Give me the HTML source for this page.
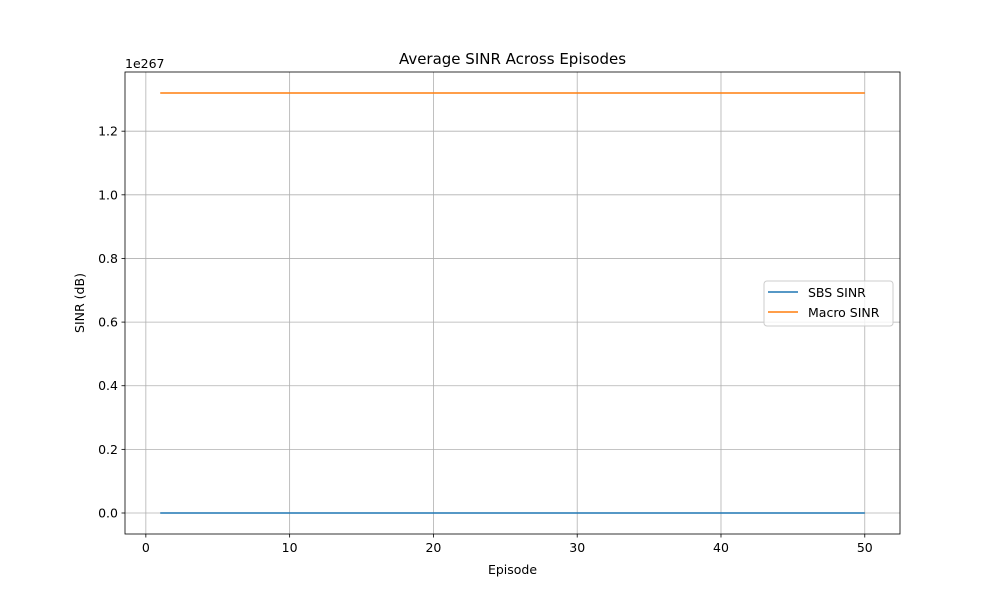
<!DOCTYPE html>
<html><head><meta charset="utf-8"><style>
body{margin:0;background:#fff;font-family:"Liberation Sans","DejaVu Sans",sans-serif}
</style></head><body>
<svg width="1000" height="600" xmlns="http://www.w3.org/2000/svg" font-family="DejaVu Sans, Liberation Sans, sans-serif">
<rect width="1000" height="600" fill="#fff"/>
<g id="grid"></g>
<g id="series"></g>
<rect x="125" y="72" width="775" height="462" fill="none" stroke="#000" stroke-width="0.8"/>
<g id="ticks" font-size="12.5" fill="#000"></g>
<text x="125" y="68" font-size="12.5">1e267</text>
<text x="512.5" y="64" font-size="15" text-anchor="middle">Average SINR Across Episodes</text>
<text x="512.5" y="574" font-size="12.5" text-anchor="middle">Episode</text>
<text x="84" y="303" font-size="12.5" text-anchor="middle" transform="rotate(-90 84 303)">SINR (dB)</text>
<g>
<rect x="764" y="281" width="129" height="45" rx="3" fill="#fff" fill-opacity="0.8" stroke="#ccc"/>
<g><line x1="768" y1="292" x2="798" y2="292" stroke="#1f77b4" stroke-width="1.5"/><text x="808" y="297" font-size="12.5">SBS SINR</text></g>
<g><line x1="768" y1="312" x2="798" y2="312" stroke="#ff7f0e" stroke-width="1.5"/><text x="808" y="317" font-size="12.5">Macro SINR</text></g>
</g>
</svg>
<script>
const episodes=[];for(let i=1;i<=50;i++)episodes.push(i);
const sbsValues=new Array(50).fill(0);
const macroValues=new Array(50).fill(1.32);
const xTicks=[0,10,20,30,40,50];
const yTicks=[0.0,0.2,0.4,0.6,0.8,1.0,1.2];
const X0=125,X1=900,Y0=534,Y1=72,xmin=-1.45,xmax=52.45,ymin=-0.066,ymax=1.386;
const sx=v=>X0+(v-xmin)/(xmax-xmin)*(X1-X0);
const sy=v=>Y0-(v-ymin)/(ymax-ymin)*(Y0-Y1);
const NS="http://www.w3.org/2000/svg";
const grid=document.getElementById('grid'),ticks=document.getElementById('ticks'),series=document.getElementById('series');
function mk(t,a,p){const e=document.createElementNS(NS,t);for(const k in a)e.setAttribute(k,a[k]);p.appendChild(e);return e;}
xTicks.forEach(t=>{const x=sx(t);
const g=mk('line',{x1:x,x2:x,y1:Y1,y2:Y0,stroke:'#b0b0b0','stroke-width':0.8},grid);


mk('line',{x1:x,x2:x,y1:Y0,y2:Y0+3.5,stroke:'#000','stroke-width':0.8},ticks);
const tx=mk('text',{x:x,y:Y0+18,'text-anchor':'middle'},ticks);tx.textContent=t;

});
yTicks.forEach(t=>{const y=sy(t);
const g=mk('line',{x1:X0,x2:X1,y1:y,y2:y,stroke:'#b0b0b0','stroke-width':0.8},grid);


mk('line',{x1:X0-3.5,x2:X0,y1:y,y2:y,stroke:'#000','stroke-width':0.8},ticks);
const tx=mk('text',{x:X0-7,y:y+4.5,'text-anchor':'end'},ticks);tx.textContent=t.toFixed(1);

});
function line(vals,color,name){const p=mk('polyline',{points:episodes.map((e,i)=>sx(e)+','+sy(vals[i])).join(' '),fill:'none',stroke:color,'stroke-width':1.5},series);

}
line(sbsValues,'#1f77b4','sbs-sinr-line');
line(macroValues,'#ff7f0e','macro-sinr-line');
</script>
</body></html>
